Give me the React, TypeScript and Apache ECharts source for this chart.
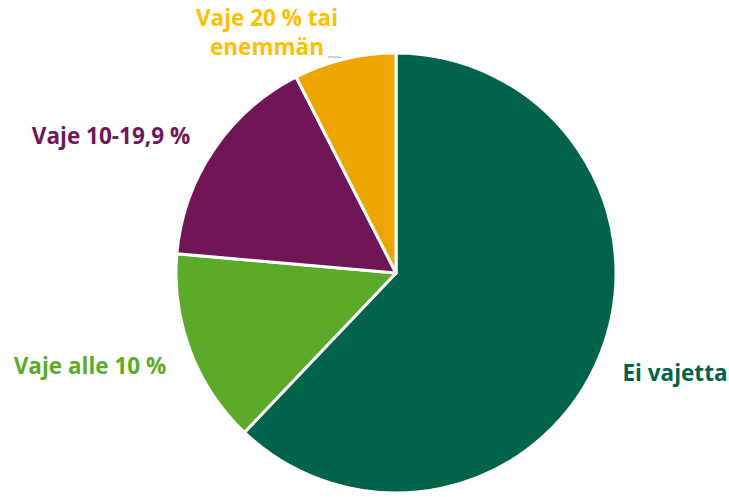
import React, { useEffect, useRef } from "react";
import * as echarts from "echarts";

const categories = ["Ei vajetta", "Vaje alle 10 %", "Vaje 10-19,9 %", "Vaje 20 % tai\nenemmän"];
const values = [62.1, 14.3, 16.1, 7.5];
const sliceColors = ["#02634B", "#5BAA2A", "#701656", "#EDA600"];
const labelColors = ["#02634B", "#5BAA2A", "#701656", "#FFC000"];

const labelPos = [
  { x: 675, y: 372, align: "center" },
  { x: 90, y: 365, align: "center" },
  { x: 111, y: 135, align: "center" },
  { x: 267, y: 32, align: "center" },
];

export default function App() {
  const ref = useRef<HTMLDivElement>(null);
  useEffect(() => {
    if (!ref.current) return;
    const chart = echarts.init(ref.current, null, { renderer: "svg" });
    chart.setOption({
      animation: false,
      backgroundColor: "#ffffff",
      graphic: [
        {
          type: "polyline",
          shape: { points: [[328, 57], [339, 57], [345, 60]] },
          style: { stroke: "#A6A6A6", lineWidth: 1, fill: "none" },
        },
      ],
      series: [
        {
          type: "pie",
          center: [396, 273],
          radius: 220,
          startAngle: 90,
          clockwise: true,
          avoidLabelOverlap: false,
          itemStyle: { borderColor: "#ffffff", borderWidth: 3 },
          label: {
            show: true,
            position: "outside",
            fontFamily: "Open Sans",
            fontWeight: "bold",
            fontSize: 22.5,
            lineHeight: 29,
            formatter: (p: any) => p.name,
          },
          labelLine: { show: false },
          labelLayout: (p: any) => {
            const lp = labelPos[p.dataIndex];
            return { x: lp.x, y: lp.y, align: lp.align, verticalAlign: "middle" };
          },
          data: categories.map((c, i) => ({
            name: c,
            value: values[i],
            itemStyle: { color: sliceColors[i] },
            label: { color: labelColors[i] },
          })),
        },
      ],
    });
    return () => chart.dispose();
  }, []);
  return <div ref={ref} style={{ position: "fixed", left: 0, top: 0, width: 729, height: 497 }} />;
}
